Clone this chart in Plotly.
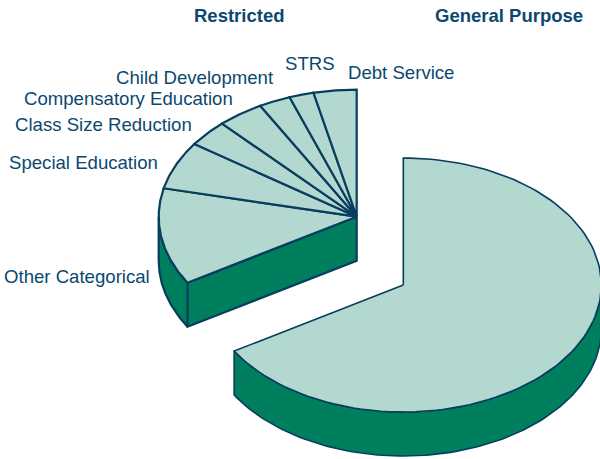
import numpy as np
import plotly.graph_objects as go

# Shares of school funding (percent), clockwise from 12 o'clock
categories = ["General Purpose", "Other Categorical", "Special Education",
              "Class Size Reduction", "Compensatory Education",
              "Child Development", "STRS", "Debt Service"]
shares = [66.3, 12.3, 6.1, 3.4, 3.8, 2.6, 2.0, 3.5]
group_of = ["general", "restricted", "restricted", "restricted", "restricted",
            "restricted", "restricted", "restricted"]
group_titles = ["Restricted", "General Purpose"]

# Drawing style
TOP = "#b2d8cf"
SIDE = "#007f5f"
EDGE = "#083d5e"
TEXT = "#0b4870"
FONT = "Liberation Sans, Arial, sans-serif"

# Ellipse geometry of the tilted pie (pixel units) and per-group centres
RX, RY, DEPTH = 198.0, 127.0, 44.0
CENTERS = {"general": (403.3, 285.0), "restricted": (356.7, 216.7)}
LINE_W = {"general": 1.6, "restricted": 2.2}

vals = np.array(shares, dtype=float)
ends = np.cumsum(vals) / vals.sum() * 360.0
starts = np.concatenate([[0.0], ends[:-1]])


def rim(cx, cy, t0, t1, n=120):
    t = np.radians(np.linspace(t0, t1, max(n, 2)))
    return cx + RX * np.sin(t), cy - RY * np.cos(t)


def poly(xs, ys, fill, width):
    return go.Scatter(x=list(xs), y=list(ys), mode="lines", fill="toself",
                      fillcolor=fill, line=dict(color=EDGE, width=width),
                      hoverinfo="skip", showlegend=False)


fig = go.Figure()

for grp in ["restricted", "general"]:
    idx = [i for i, g in enumerate(group_of) if g == grp]
    p0, p1 = starts[idx[0]], ends[idx[-1]]
    cx, cy = CENTERS[grp]
    w = LINE_W[grp]

    # Curved outer wall on the front half of the ellipse
    v0, v1 = max(p0, 90.0), min(p1, 270.0)
    if v1 > v0:
        xs, ys = rim(cx, cy, v0, v1)
        fig.add_trace(poly(np.concatenate([xs, xs[::-1]]),
                           np.concatenate([ys, ys[::-1] + DEPTH]), SIDE, w))

    # Flat cut faces that turn toward the viewer
    for ang, normal in ((p0, p0 - 90.0), (p1, p1 + 90.0)):
        if -np.cos(np.radians(normal)) > 1e-6:
            ex, ey = rim(cx, cy, ang, ang, 2)
            fig.add_trace(poly([cx, ex[0], ex[0], cx, cx],
                               [cy, ey[0], ey[0] + DEPTH, cy + DEPTH, cy],
                               SIDE, w))

    # Top faces of each slice
    for i in idx:
        xs, ys = rim(cx, cy, starts[i], ends[i])
        fig.add_trace(poly(np.concatenate([[cx], xs, [cx]]),
                           np.concatenate([[cy], ys, [cy]]), TOP, w))

# Slice labels
label_pos = {
    "Other Categorical": (152, 276, "right"),
    "Special Education": (160, 162, "right"),
    "Class Size Reduction": (194, 124, "right"),
    "Compensatory Education": (235, 98, "right"),
    "Child Development": (276, 77, "right"),
    "STRS": (310, 63, "center"),
    "Debt Service": (346, 72, "left"),
}
for name, (lx, ly, anchor) in label_pos.items():
    fig.add_annotation(x=lx, y=ly, text=name, showarrow=False,
                       xanchor=anchor, yanchor="middle",
                       font=dict(family=FONT, size=18.6, color=TEXT))

# Group headings
for title, hx in zip(group_titles, [239, 509]):
    fig.add_annotation(x=hx, y=15, text=f"<b>{title}</b>", showarrow=False,
                       xanchor="center", yanchor="middle",
                       font=dict(family=FONT, size=18.5, color=TEXT))

fig.update_layout(
    width=600, height=459,
    margin=dict(l=0, r=0, t=0, b=0),
    paper_bgcolor="white", plot_bgcolor="white",
    showlegend=False,
    xaxis=dict(range=[0, 600], visible=False, fixedrange=True),
    yaxis=dict(range=[459, 0], visible=False, fixedrange=True),
)

fig.write_html("out.html")
